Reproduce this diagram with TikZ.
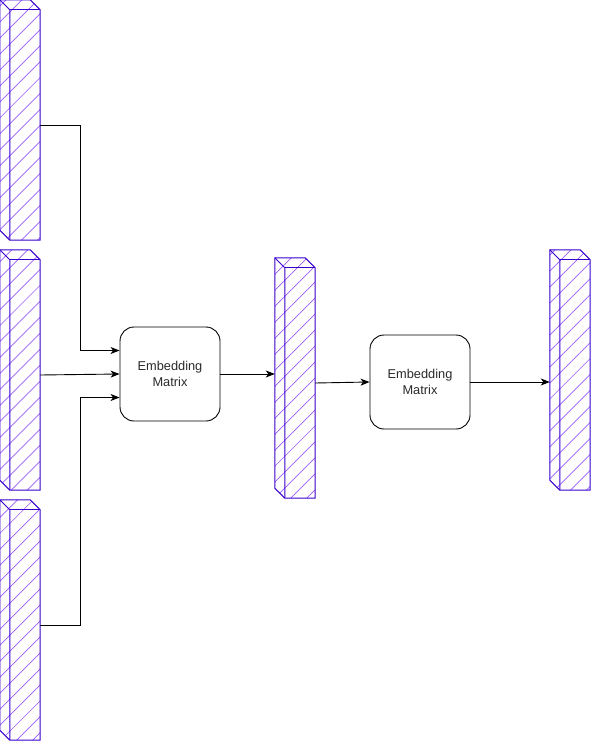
\documentclass[tikz,border=0pt]{standalone}
\usepackage{fontspec}
\setmainfont{Liberation Sans}
\usetikzlibrary{arrows,arrows.meta,patterns.meta}
\definecolor{barstroke}{HTML}{3700CC}
\definecolor{barhatch}{HTML}{9A5CFF}
\definecolor{boxtext}{HTML}{2A2A2A}

% hatched 3d column drawn round a vecbar node
\newcommand{\cubebar}[1]{%
	\filldraw[barline,pattern={Lines[angle=45,distance=11.3pt,line width=0.7pt]},pattern color=barhatch]
		(#1.north west) -- ([xshift=-10pt]#1.north east) -- ([yshift=-10pt]#1.north east)
		-- (#1.south east) -- ([xshift=10pt]#1.south west) -- ([yshift=10pt]#1.south west) -- cycle;
	\draw[barline] (#1.north west) -- ([xshift=10pt,yshift=-10pt]#1.north west) -- ([xshift=10pt]#1.south west);
	\draw[barline] ([xshift=10pt,yshift=-10pt]#1.north west) -- ([yshift=-10pt]#1.north east);
}

\begin{document}
\begin{tikzpicture}[x=1pt,y=-1pt,>={Stealth[length=9pt,width=7pt,inset=2.5pt]}]
	\tikzset{
	%Define style for the columns
	vecbar/.style={
		rectangle,
		minimum width=40pt,
		minimum height=240pt,
		inner sep=0pt},
	barline/.style={draw=barstroke, line width=1pt},
	%Define style for boxes
	matbox/.style={
		rectangle,
		rounded corners=14pt,
		draw=black, line width=0.9pt,
		minimum width=100pt,
		minimum height=94pt,
		align=center,
		text=boxtext,
		font=\fontsize{12.8}{16}\selectfont},
	% Define arrow style
	pil/.style={
		->,
		line width=0.9pt}
}
	\useasboundingbox (0,0) rectangle (591,741);

	%input columns
	\node[vecbar] at (20,120) (in1) {};
	\node[vecbar] at (20,370) (in2) {};
	\node[vecbar] at (20,620) (in3) {};
	%hidden and output columns
	\node[vecbar] at (295,378) (hid) {};
	\node[vecbar] at (570,370) (out) {};
	%embedding boxes
	\node[matbox] at (170,374) (emb1) {Embedding\\Matrix};
	\node[matbox] at (420,382) (emb2) {Embedding\\Matrix};

	\foreach \b in {in1,in2,in3,hid,out} {
		\cubebar{\b}
	}

	%inputs into first box
	\draw[pil] ([yshift=-5pt]in1.east) -- ++(40,0) |- ([yshift=23.5pt]emb1.west);
	\draw[pil] ([yshift=-5pt]in2.east) -- (emb1.west);
	\draw[pil] ([yshift=-5pt]in3.east) -- ++(40,0) |- ([yshift=-23.5pt]emb1.west);
	%first box to output
	\draw[pil] (emb1.east) -- (emb1.east -| hid.west);
	\draw[pil] ([yshift=-5pt]hid.east) -- (emb2.west);
	\draw[pil] (emb2.east) -- (emb2.east -| out.west);

\end{tikzpicture}
\end{document}
